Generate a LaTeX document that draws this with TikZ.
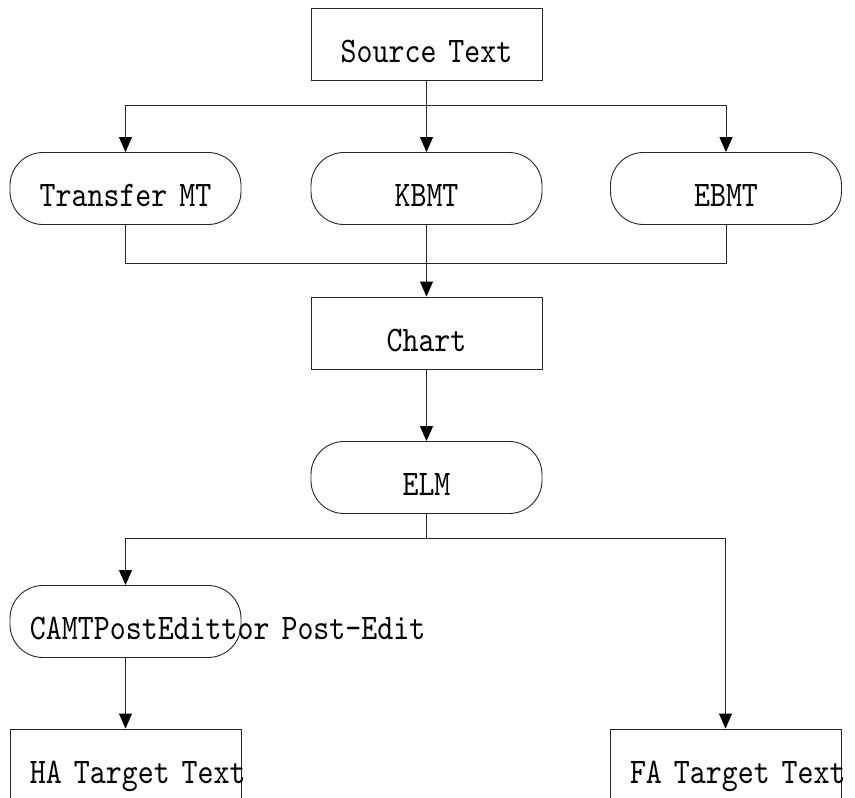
\documentclass[tikz,border=0pt]{standalone}
\usepackage{fontspec}
\usetikzlibrary{arrows.meta}
\newfontfamily\flowfont[FakeStretch=0.845]{lmmono10-regular.otf}
\hyphenpenalty=10000
\exhyphenpenalty=10000
\tikzset{
  base/.style={draw=black!85, line width=0.9pt,
    font=\flowfont\fontsize{36pt}{38pt}\selectfont,
    text width=191pt, align=center, inner xsep=20pt, inner ysep=0pt,
    minimum width=231pt, minimum height=72pt, text height=36pt, text depth=0pt},
  box/.style={base},
  pill/.style={base, rounded corners=33pt},
  link/.style={draw=black!85, line width=0.9pt},
  arr/.style={link, -{Triangle[length=15pt, width=13pt, fill=black, color=black]}}
}
\begin{document}
\begin{tikzpicture}[x=1pt, y=-1pt]
  \clip (0,0) rectangle (855,798);
  % 상단
  \node[box] (src) at (426.5,44) {Source~Text};
  \node[pill] (transfer) at (125.5,188.5) {Transfer~MT};
  \node[pill] (kbmt) at (426.5,188.5) {KBMT};
  \node[pill] (ebmt) at (726,188.5) {EBMT};
  % 가운데
  \node[box] (chart) at (426.5,333) {Chart};
  \node[pill] (elm) at (426.5,477.5) {ELM};
  % 하단
  \node[pill] (camt) at (125.5,621.5) {CAMTPostEdittor~Post-Edit};
  \node[box] (ha) at (125.5,765) {HA~Target~Text};
  \node[box] (fa) at (725.5,765) {FA~Target~Text};
  \coordinate (fork) at (426.5,105);
  \coordinate (join) at (426.5,263);
  \coordinate (fork2) at (426.5,538);
  % 연결선
  \draw[arr] (src.south) -- (kbmt.north);
  \draw[arr] (fork) -| (transfer.north);
  \draw[arr] (fork) -| (ebmt.north);
  \draw[link] (transfer.south) |- (join);
  \draw[link] (ebmt.south) |- (join);
  \draw[arr] (kbmt.south) -- (chart.north);
  \draw[arr] (chart.south) -- (elm.north);
  \draw[link] (elm.south) -- (fork2);
  \draw[arr] (fork2) -| (camt.north);
  \draw[arr] (fork2) -| (fa.north);
  \draw[arr] (camt.south) -- (ha.north);
\end{tikzpicture}
\end{document}
